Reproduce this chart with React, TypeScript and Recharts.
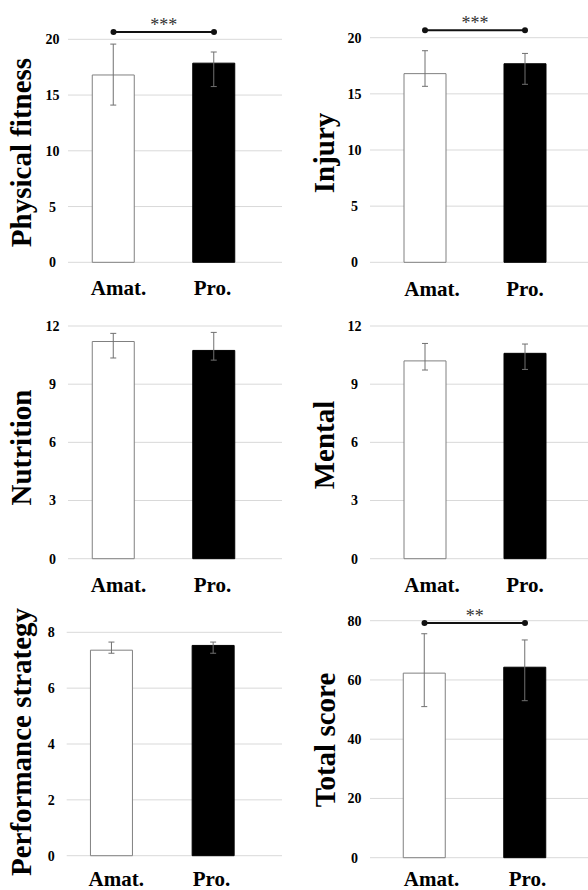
import React from 'react';
import {
  BarChart,
  Bar,
  Cell,
  XAxis,
  YAxis,
  CartesianGrid,
  ErrorBar,
  ReferenceLine,
  ReferenceDot,
} from 'recharts';

// ---------- data ----------
const groups = ['Amat.', 'Pro.'];

const physicalMean = [16.8, 17.86];
const physicalErr = [[2.7, 2.77], [2.1, 1.0]];
const injuryMean = [16.8, 17.68];
const injuryErr = [[1.13, 2.04], [1.83, 0.92]];
const nutritionMean = [11.2, 10.74];
const nutritionErr = [[0.85, 0.42], [0.5, 0.93]];
const mentalMean = [10.2, 10.59];
const mentalErr = [[0.47, 0.9], [0.83, 0.48]];
const strategyMean = [7.36, 7.53];
const strategyErr = [[0.11, 0.29], [0.28, 0.12]];
const totalMean = [62.3, 64.3];
const totalErr = [[11.3, 13.3], [11.3, 9.2]];

const physicalTicks = [0, 5, 10, 15, 20];
const injuryTicks = [0, 5, 10, 15, 20];
const nutritionTicks = [0, 3, 6, 9, 12];
const mentalTicks = [0, 3, 6, 9, 12];
const strategyTicks = [0, 2, 4, 6, 8];
const totalTicks = [0, 20, 40, 60, 80];

const physicalSig = { level: 20.65, mark: '***' };
const injurySig = { level: 20.66, mark: '***' };
const totalSig = { level: 79.2, mark: '**' };

// ---------- styles ----------
const SERIF = '"Liberation Serif", "Times New Roman", serif';

type Layout = {
  left: number;
  top: number;
  width: number;
  height: number;
  plotLeft: number;
  plotRight: number;
  zeroY: number;
  topTickY: number;
  domainMax: number;
  centers: [number, number];
  labelShift: [number, number];
  labelGap: number;
  titleX: number;
  titleY: number;
};

const Title = (props: any) => {
  const { text, tx, ty } = props;
  return (
    <text
      x={tx}
      y={ty}
      transform={`rotate(-90, ${tx}, ${ty})`}
      textAnchor="middle"
      fontFamily={SERIF}
      fontWeight="bold"
      fontSize={29}
      fill="#000"
    >
      {text}
    </text>
  );
};

const XTick = (props: any) => {
  const { x, y, payload, index, shifts } = props;
  const dx = shifts ? shifts[index] ?? 0 : 0;
  return (
    <text
      x={x + dx}
      y={y}
      dy="0.71em"
      textAnchor="middle"
      fontFamily={SERIF}
      fontWeight="bold"
      fontSize={21}
      fill="#000"
    >
      {payload.value}
    </text>
  );
};

const YTick = (props: any) => {
  const { x, y, payload } = props;
  return (
    <text
      x={x}
      y={y}
      dy="0.355em"
      textAnchor="middle"
      fontFamily={SERIF}
      fontWeight="bold"
      fontSize={14}
      fill="#000"
    >
      {payload.value}
    </text>
  );
};

type PanelProps = {
  title: string;
  means: number[];
  errs: number[][];
  ticks: number[];
  sig?: { level: number; mark: string };
  layout: Layout;
};

const Panel = ({ title, means, errs, ticks, sig, layout }: PanelProps) => {
  const data = groups.map((g, i) => ({ group: g, value: means[i], err: errs[i] }));
  const L = layout;
  const topTick = ticks[ticks.length - 1];
  const ppu = (L.zeroY - L.topTickY) / topTick;
  const plotTop = L.zeroY - L.domainMax * ppu;
  const xAxisH = 30;
  const margin = {
    top: plotTop - L.top,
    right: L.left + L.width - L.plotRight,
    bottom: L.top + L.height - L.zeroY - xAxisH,
    left: 0,
  };
  const band = L.centers[1] - L.centers[0];
  const padL = L.centers[0] - band / 2 - L.plotLeft;
  const padR = L.plotRight - (L.centers[1] + band / 2);

  const gridGen = (args: any) => {
    const scale = args?.yAxis?.scale;
    if (typeof scale === 'function') return ticks.map((t) => scale(t));
    if (scale && typeof scale.map === 'function') return ticks.map((t) => scale.map(t));
    return [];
  };

  return (
    <div style={{ position: 'absolute', left: L.left, top: L.top, width: L.width, height: L.height }}>
      <BarChart width={L.width} height={L.height} data={data} margin={margin}>
        <CartesianGrid
          vertical={false}
          stroke="#d9d9d9"
          strokeWidth={1}
          horizontalCoordinatesGenerator={gridGen}
        />
        <XAxis
          dataKey="group"
          type="category"
          height={xAxisH}
          padding={{ left: padL, right: padR }}
          axisLine={false}
          tickLine={false}
          tickSize={0}
          tickMargin={L.labelGap}
          interval={0}
          tick={<XTick shifts={L.labelShift} />}
        />
        <YAxis
          type="number"
          domain={[0, L.domainMax]}
          ticks={ticks}
          width={L.plotLeft - L.left}
          axisLine={false}
          tickLine={false}
          tickSize={0}
          tickMargin={15.5}
          interval={0}
          tick={<YTick />}
          label={<Title text={title} tx={L.titleX} ty={L.titleY} />}
        />
        <Bar dataKey="value" barSize={42} isAnimationActive={false}>
          {data.map((d, i) => (
            <Cell
              key={d.group}
              fill={i === 0 ? '#ffffff' : '#000000'}
              stroke={i === 0 ? '#808080' : '#000000'}
              strokeWidth={1}
            />
          ))}
          <ErrorBar dataKey="err" width={3} stroke="#707070" strokeWidth={1} isAnimationActive={false} />
        </Bar>
        {sig && (
          <ReferenceLine
            segment={[
              { x: groups[0], y: sig.level },
              { x: groups[1], y: sig.level },
            ]}
            stroke="#111"
            strokeWidth={2}
            label={{
              value: sig.mark,
              position: 'top',
              offset: 1,
              fill: '#333',
              fontSize: 18,
              fontFamily: SERIF,
            }}
          />
        )}
        {sig && <ReferenceDot x={groups[0]} y={sig.level} r={3} fill="#111" stroke="none" />}
        {sig && <ReferenceDot x={groups[1]} y={sig.level} r={3} fill="#111" stroke="none" />}
      </BarChart>
    </div>
  );
};

const layouts: Record<string, Layout> = {
  physical: { left: 0, top: 0, width: 294, height: 300, plotLeft: 68, plotRight: 282, zeroY: 262.3, topTickY: 39.3, domainMax: 22, centers: [113.5, 214], labelShift: [5, -1.5], labelGap: 18, titleX: 31, titleY: 152.5 },
  injury: { left: 294, top: 0, width: 294, height: 300, plotLeft: 370, plotRight: 588, zeroY: 262.3, topTickY: 37.7, domainMax: 22, centers: [425, 525], labelShift: [7, 0], labelGap: 19, titleX: 40, titleY: 153 },
  nutrition: { left: 0, top: 300, width: 294, height: 300, plotLeft: 68, plotRight: 282, zeroY: 558.7, topTickY: 326, domainMax: 12, centers: [113.5, 214], labelShift: [5, -1.5], labelGap: 18.3, titleX: 31, titleY: 147.5 },
  mental: { left: 294, top: 300, width: 294, height: 300, plotLeft: 370, plotRight: 588, zeroY: 558.7, topTickY: 326, domainMax: 12, centers: [425, 525], labelShift: [7, 0], labelGap: 18.3, titleX: 40, titleY: 145 },
  strategy: { left: 0, top: 590, width: 294, height: 300, plotLeft: 66.7, plotRight: 282, zeroY: 855.7, topTickY: 632.3, domainMax: 8, centers: [111.3, 213], labelShift: [5, -1.5], labelGap: 15.5, titleX: 31, titleY: 152 },
  total: { left: 294, top: 590, width: 294, height: 300, plotLeft: 370, plotRight: 588, zeroY: 857.7, topTickY: 620.7, domainMax: 85, centers: [424.5, 525], labelShift: [7, 2.5], labelGap: 13.5, titleX: 41, titleY: 150 },
};

export default function App() {
  return (
    <div style={{ position: 'absolute', left: 0, top: 0, width: 588, height: 890, background: '#fff', overflow: 'hidden' }}>
      <Panel title="Physical fitness" means={physicalMean} errs={physicalErr} ticks={physicalTicks} sig={physicalSig} layout={layouts.physical} />
      <Panel title="Injury" means={injuryMean} errs={injuryErr} ticks={injuryTicks} sig={injurySig} layout={layouts.injury} />
      <Panel title="Nutrition" means={nutritionMean} errs={nutritionErr} ticks={nutritionTicks} layout={layouts.nutrition} />
      <Panel title="Mental" means={mentalMean} errs={mentalErr} ticks={mentalTicks} layout={layouts.mental} />
      <Panel title="Performance strategy" means={strategyMean} errs={strategyErr} ticks={strategyTicks} layout={layouts.strategy} />
      <Panel title="Total score" means={totalMean} errs={totalErr} ticks={totalTicks} sig={totalSig} layout={layouts.total} />
    </div>
  );
}
